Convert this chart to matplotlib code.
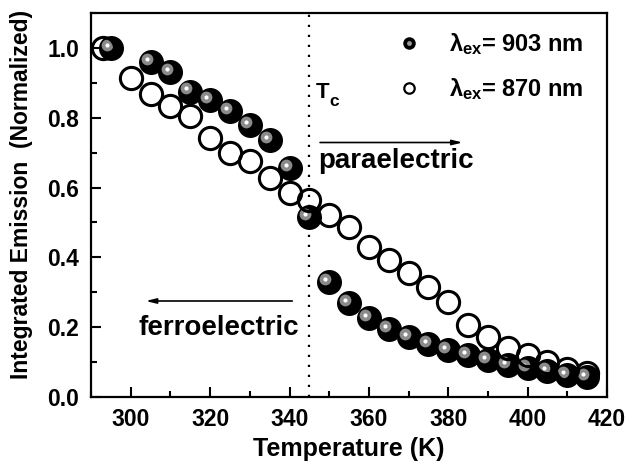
import matplotlib
matplotlib.use('Agg')
import matplotlib.pyplot as plt
import matplotlib.transforms as mtransforms
from matplotlib.lines import Line2D
from matplotlib.ticker import MultipleLocator

plt.rcParams['font.family'] = ['Liberation Sans', 'DejaVu Sans']
plt.rcParams['font.weight'] = 'bold'
plt.rcParams['axes.labelweight'] = 'bold'
plt.rcParams['mathtext.fontset'] = 'custom'
plt.rcParams['mathtext.rm'] = 'Liberation Sans:bold'
plt.rcParams['mathtext.it'] = 'Liberation Sans'
plt.rcParams['mathtext.bf'] = 'Liberation Sans:bold'

# excitation at 903 nm (filled spheres)
temp_903 = [295, 305, 310, 315, 320, 325, 330, 335, 340, 345, 350, 355, 360,
            365, 370, 375, 380, 385, 390, 395, 400, 405, 410, 415]
emis_903 = [1.0, 0.96, 0.93, 0.875, 0.85, 0.82, 0.78, 0.735, 0.655, 0.515, 0.33,
            0.27, 0.225, 0.195, 0.172, 0.153, 0.135, 0.12, 0.105, 0.092, 0.083,
            0.074, 0.064, 0.057]

# excitation at 870 nm (open circles)
temp_870 = [293, 300, 305, 310, 315, 320, 325, 330, 335, 340, 345, 350, 355, 360,
            365, 370, 375, 380, 385, 390, 395, 400, 405, 410, 415]
emis_870 = [1.0, 0.914, 0.869, 0.834, 0.806, 0.743, 0.70, 0.677, 0.626, 0.583,
            0.563, 0.52, 0.486, 0.429, 0.391, 0.354, 0.314, 0.271, 0.206, 0.171,
            0.14, 0.12, 0.10, 0.08, 0.068]

t_curie = 345

fig = plt.figure(figsize=(6.28, 4.62), dpi=100)
ax = fig.add_axes([0.145, 0.1407, 0.8216, 0.8312])

# filled "sphere" markers: black disk + offset grey highlight + white spot
hl = mtransforms.offset_copy(ax.transData, fig=fig, x=-2.8, y=2.2, units='points')
ax.plot(temp_903, emis_903, 'o', ms=18, mfc='black', mec='black', mew=0, zorder=2)
ax.plot(temp_903, emis_903, 'o', ms=8.5, mfc='#8a8a8a', mec='#8a8a8a', mew=0,
        transform=hl, zorder=3)
ax.plot(temp_903, emis_903, 'o', ms=3, mfc='white', mec='white', mew=0,
        transform=hl, zorder=4)

ax.plot(temp_870, emis_870, 'o', ms=16, mfc='none', mec='black', mew=2.2, zorder=5)

ax.axvline(t_curie, color='black', lw=1.6, ls=(0, (1, 3.5)), zorder=1)

ax.annotate('', xy=(384.3, 0.729), xytext=(347.0, 0.729),
            arrowprops=dict(arrowstyle='-|>,head_length=0.6,head_width=0.15',
                            color='black', lw=1.2))
ax.annotate('', xy=(303.1, 0.275), xytext=(341.4, 0.275),
            arrowprops=dict(arrowstyle='-|>,head_length=0.6,head_width=0.15',
                            color='black', lw=1.2))
ax.text(347.3, 0.657, 'paraelectric', fontsize=20, ha='left', va='baseline')
ax.text(302.0, 0.177, 'ferroelectric', fontsize=20, ha='left', va='baseline')
ax.text(346.5, 0.857, 'T', fontsize=16, ha='left', va='baseline')
ax.annotate('c', xy=(346.5, 0.857), xytext=(10, -6), textcoords='offset points',
            fontsize=12.5, ha='left', va='baseline')

handles = [
    (Line2D([], [], ls='none', marker='o', ms=9, mfc='black', mec='black', mew=0),
     Line2D([], [], ls='none', marker='o', ms=3.5, mfc='#9a9a9a', mec='#9a9a9a', mew=0),
     ),
    Line2D([], [], ls='none', marker='o', ms=7.5, mfc='none', mec='black', mew=1.6),
]
labels = [r'$\lambda_{\mathbf{ex}}$= 903 nm', r'$\lambda_{\mathbf{ex}}$= 870 nm']
ax.legend(handles, labels, loc='upper left', bbox_to_anchor=(0.561, 0.995),
          frameon=False, fontsize=17, handlelength=1.0, handletextpad=1.2,
          labelspacing=0.8, borderpad=0.2)

ax.set_xlim(290, 420)
ax.set_ylim(0, 1.1)
ax.xaxis.set_major_locator(MultipleLocator(20))
ax.xaxis.set_minor_locator(MultipleLocator(10))
ax.yaxis.set_major_locator(MultipleLocator(0.2))
ax.yaxis.set_minor_locator(MultipleLocator(0.1))
ax.tick_params(which='both', direction='in', width=1.5, labelsize=16.5)
ax.tick_params(axis='x', which='both', pad=8)
ax.tick_params(axis='y', which='both', pad=8.5)
ax.tick_params(which='major', length=7)
ax.tick_params(which='minor', length=4)
for s in ax.spines.values():
    s.set_linewidth(1.6)

ax.set_xlabel('Temperature (K)', fontsize=18, labelpad=4)
ax.set_ylabel('Integrated Emission  (Normalized)', fontsize=16.5)
ax.yaxis.set_label_coords(-0.112, 0.527)

plt.savefig('out.png', dpi=100)
